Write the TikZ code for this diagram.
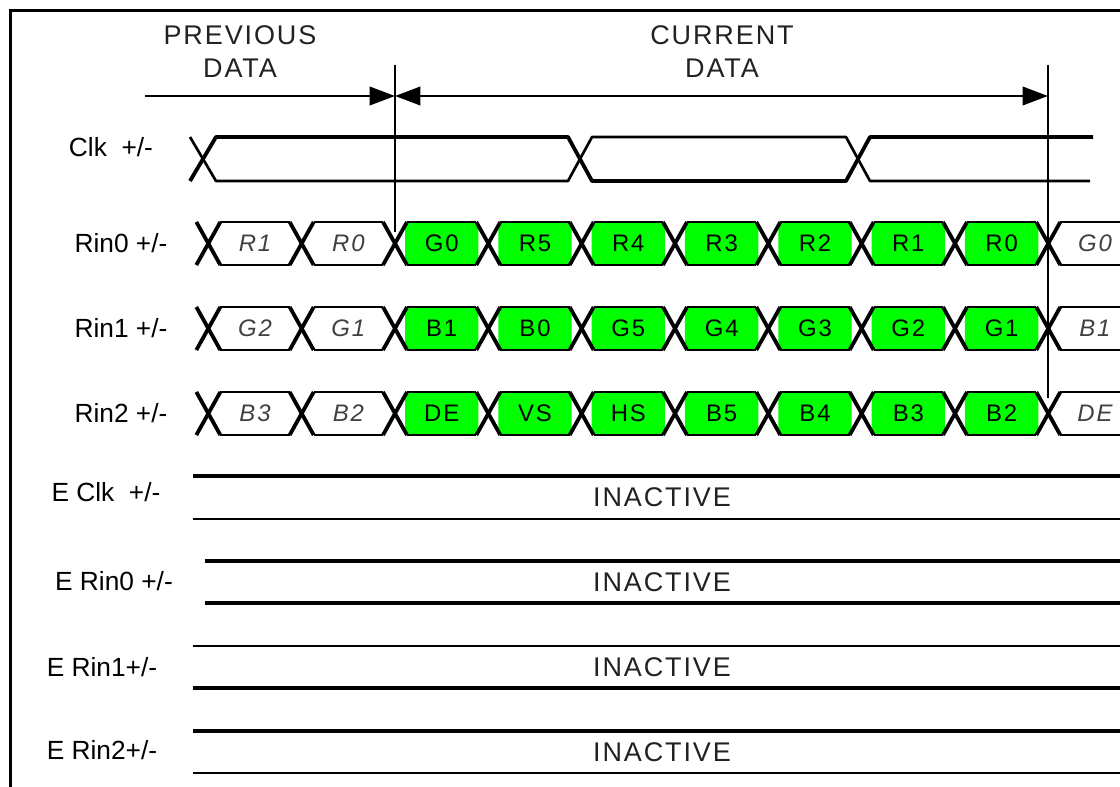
\documentclass[tikz,border=0pt]{standalone}
\usepackage{fontspec}
\setmainfont{Liberation Sans}
\newfontfamily\widefont[LetterSpace=7]{Liberation Sans}
\newfontfamily\cellfont[LetterSpace=8]{Liberation Sans}
\usepackage{tikz}
\usetikzlibrary{arrows.meta}
\definecolor{lvdsgreen}{RGB}{0,255,0}
\definecolor{inkgray}{RGB}{34,34,34}
\definecolor{oldgray}{RGB}{64,64,64}

\begin{document}
\begin{tikzpicture}[x=0.025cm,y=-0.025cm,>={Triangle[length=18pt,width=13pt]},
 thick line/.style={line width=2.7pt},
 thin line/.style={line width=1.9pt},
 sig/.style={font=\fontsize{18.7}{20}\selectfont,inner sep=0pt},
 head/.style={font=\fontsize{19.2}{23.4}\widefont,text=inkgray,align=center,inner sep=0pt},
 bit/.style={font=\fontsize{17}{19}\cellfont,inner sep=0pt},
 oldbit/.style={font=\fontsize{17}{19}\cellfont\itshape,text=oldgray,inner sep=0pt}]
\useasboundingbox (0,0) rectangle (1120,787);
\draw[line width=2.2pt] (10.5,787) -- (10.5,10.5) -- (1120,10.5);
\node[head] (prev) at (240,52) {PREVIOUS\\DATA};
\node[head] (cur) at (722,52) {CURRENT\\DATA};
\coordinate (m1) at (395,65);
\coordinate (m2) at (1048,65);
\coordinate (a0) at (145,96);
\draw[line width=1.8pt] (m1) -- (395,232);
\draw[line width=1.8pt] (m2) -- (1048,398);
\draw[->,line width=2pt] (a0) -- (m1 |- a0);
\draw[<->,line width=2pt] (m1 |- a0) -- (m2 |- a0);
\node[sig] (clklab) at (111,147) {Clk\ \ +/-};
\draw[thick line,line join=round] (190,181) -- (216,137) -- (568,137) -- (592,181) -- (846,181) -- (870,137) -- (1093,137);
\draw[thin line,line join=round] (190,137) -- (216,181) -- (568,181) -- (592,137) -- (846,137) -- (870,181) -- (1090,181);
\node[sig] (rin0lab) at (121,243) {Rin0 +/-};
\node[sig] (rin1lab) at (121,328) {Rin1 +/-};
\node[sig] (rin2lab) at (121,413) {Rin2 +/-};
\foreach \row/\yt/\cells in {rin0/222/{R1,R0,G0,R5,R4,R3,R2,R1,R0,G0},rin1/307/{G2,G1,B1,B0,G5,G4,G3,G2,G1,B1},rin2/392/{B3,B2,DE,VS,HS,B5,B4,B3,B2,DE}}{
  \pgfmathsetmacro\yb{\yt+43}
  \pgfmathsetmacro\ym{\yt+21.5}
  \foreach \lab [count=\i from 0] in \cells {
    \pgfmathsetmacro\xl{395+93.33*(\i-2)}
    \pgfmathsetmacro\xr{\xl+93.33}
    \def\cellstyle{oldbit}
    \ifnum\i>1 \ifnum\i<9
      \def\cellstyle{bit}
      \fill[lvdsgreen] (\xl+12,\yt) -- (\xr-12,\yt) -- (\xr-10,\yt+4) -- (\xr-10,\yb-4) -- (\xr-12,\yb) -- (\xl+12,\yb) -- (\xl+10,\yb-4) -- (\xl+10,\yt+4) -- cycle;
    \fi\fi
    \draw[thin line] (\xl+12,\yt) -- (\xr-12,\yt) (\xl+12,\yb) -- (\xr-12,\yb);
    \draw[thick line] (\xl-12,\yt) -- (\xl+12,\yb) (\xl-12,\yb) -- (\xl+12,\yt);
    \node[\cellstyle] (\row-\i) at (\xl+46.67,\ym) {\lab};
  }
}
\node[sig] (eclklab) at (106,492) {E Clk\ \ +/-};
\node[sig] (erin0lab) at (114,581) {E Rin0 +/-};
\node[sig] (erin1lab) at (102,667) {E Rin1+/-};
\node[sig] (erin2lab) at (102,750) {E Rin2+/-};
\foreach \row/\yt/\yb/\xs/\wt/\wb in {eclk/476/519/193/2.7/1.9,erin0/561/603/205/2.7/2.7,erin1/646/688/193/1.9/2.7,erin2/731/773/193/2.7/1.9}{
  \draw[line width=\wt pt] (\xs,\yt) -- (1120,\yt);
  \draw[line width=\wb pt] (\xs,\yb) -- (1120,\yb);
  \node[head] (\row) at (662,{(\yt+\yb)/2}) {INACTIVE};
}
\end{tikzpicture}
\end{document}
